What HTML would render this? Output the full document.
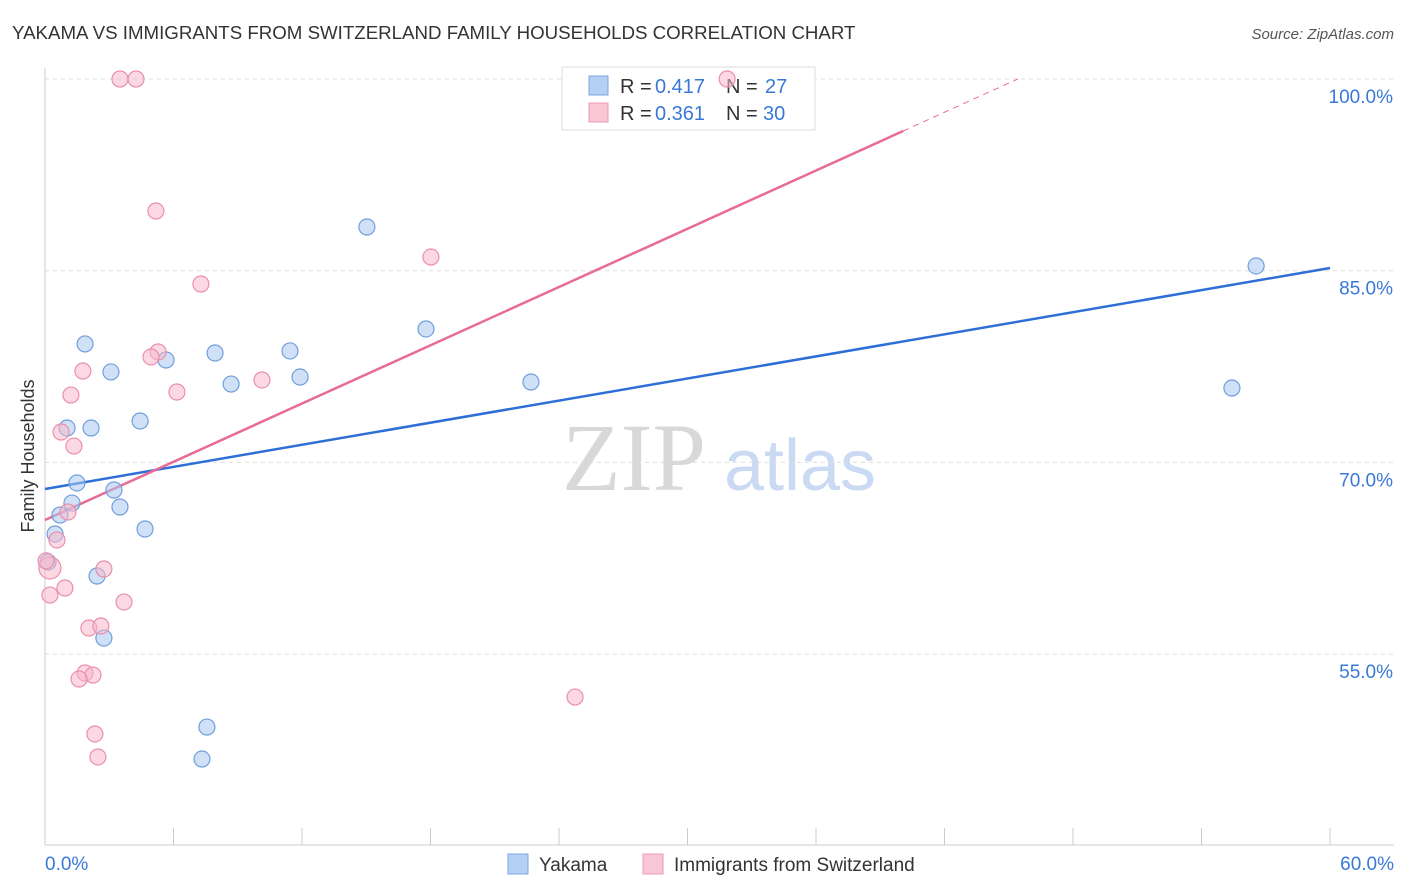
<!DOCTYPE html>
<html><head><meta charset="utf-8"><style>
body{margin:0;background:#fff;font-family:"Liberation Sans",sans-serif}
svg{display:block}
</style></head><body>
<svg id="chart" width="1406" height="892" xmlns="http://www.w3.org/2000/svg">
<text x="12" y="39" font-size="18.7" fill="#333">YAKAMA VS IMMIGRANTS FROM SWITZERLAND FAMILY HOUSEHOLDS CORRELATION CHART</text>
<text x="1394" y="39" font-size="15" fill="#555" font-style="italic" text-anchor="end">Source: ZipAtlas.com</text>
<g>
<text x="634" y="490" font-size="96" fill="#d8d8d8" font-family="Liberation Serif" text-anchor="middle">ZIP</text>
<text x="800" y="490" font-size="72" fill="#c9daf2" text-anchor="middle">atlas</text>
</g>
<g id="grid"></g>
<g id="axes"></g>
<g>
<rect x="562" y="67" width="253" height="63" fill="#fff" stroke="#ddd"/>
<rect x="589" y="76" width="19" height="19" fill="#b5d0f5" stroke="#7aa6e0"/>
<rect x="589" y="103" width="19" height="19" fill="#f9c6d5" stroke="#eb9ab5"/>
<text x="620" y="93" font-size="20" fill="#333">R =</text>
<text x="655" y="93" font-size="20" fill="#3a78d8">0.417</text>
<text x="726" y="93" font-size="20" fill="#333">N =</text>
<text x="765" y="93" font-size="20" fill="#3a78d8">27</text>
<text x="620" y="120" font-size="20" fill="#333">R =</text>
<text x="655" y="120" font-size="20" fill="#3a78d8">0.361</text>
<text x="726" y="120" font-size="20" fill="#333">N =</text>
<text x="763" y="120" font-size="20" fill="#3a78d8">30</text>
</g>
<g id="lines"></g>
<g id="points"></g>
<text transform="translate(34,456) rotate(-90)" font-size="18" fill="#333" text-anchor="middle">Family Households</text>
<g>
<rect x="508" y="854" width="20" height="20" fill="#b5d0f5" stroke="#7aa6e0"/>
<text x="539" y="871" font-size="19" fill="#333">Yakama</text>
<rect x="643" y="854" width="20" height="20" fill="#f9c6d5" stroke="#eb9ab5"/>
<text x="674" y="871" font-size="19" fill="#333">Immigrants from Switzerland</text>
</g>
</svg>
<script>
const yTicks=[100,85,70,55];
const yTickLabels=["100.0%","85.0%","70.0%","55.0%"];
const xTicks=[0,6,12,18,24,30,36,42,48,54,60];
const xTickLabels=["0.0%","60.0%"];
const blueX=[15.03,56.55,1.87,3.08,5.65,7.94,11.44,8.69,11.91,17.79,22.69,55.42,4.44,1.03,2.15,1.49,3.22,1.26,0.70,3.50,4.67,0.47,0.14,2.43,2.75,7.56,7.33];
const blueY=[88.42,85.37,79.27,77.08,78.01,78.56,78.72,76.13,76.68,80.44,76.29,75.82,73.24,72.69,72.69,68.39,67.84,66.82,65.88,66.51,64.79,64.40,62.20,61.11,56.26,49.29,46.79];
const pinkX=[3.50,4.25,31.85,5.18,18.02,7.28,5.28,4.95,1.77,10.13,6.16,1.21,0.75,1.35,1.07,0.56,0.23,0.93,0.23,2.75,3.69,2.05,2.61,1.87,2.24,1.59,24.75,2.33,2.47,0.05];
const pinkY=[100,100,100,89.67,86.07,83.96,78.64,78.25,77.15,76.45,75.51,75.27,72.38,71.28,66.12,63.93,61.74,60.17,59.62,61.66,59.08,57.04,57.20,53.52,53.36,53.05,51.64,48.75,46.95,62.3];
const blueTrend=[67.92,85.21];
const pinkTrend=[65.49,0.7597];
const NS="http://www.w3.org/2000/svg";
const X=v=>45+v/60*1285;
const Y=v=>79+(100-v)*12.78;
function mk(t,a,p){const e=document.createElementNS(NS,t);for(const k in a)e.setAttribute(k,a[k]);p.appendChild(e);return e;}
const grid=document.getElementById('grid'),axes=document.getElementById('axes'),lines=document.getElementById('lines'),pts=document.getElementById('points');
yTicks.forEach((v,i)=>{
 const l=mk('line',{x1:45,x2:1394,y1:Y(v),y2:Y(v),stroke:'#ddd','stroke-dasharray':'4,4'},grid);
 
 
 const t=mk('text',{x:1393,y:Y(v)+24,'font-size':19,fill:'#3a78d8','text-anchor':'end'},axes);
 t.textContent=yTickLabels[i];
 
 
});
const xa=mk('line',{x1:45,x2:1394,y1:845,y2:845,stroke:'#ccc'},axes);


const ya=mk('line',{x1:45,x2:45,y1:68,y2:845,stroke:'#ccc'},axes);


xTicks.forEach(v=>{
 const t=mk('line',{x1:X(v),x2:X(v),y1:828,y2:845,stroke:'#ccc'},axes);
 
 
});
[[0,'start',45],[60,'end',1394]].forEach((d,i)=>{
 const t=mk('text',{x:d[2],y:870,'font-size':19,fill:'#3a78d8','text-anchor':d[1]},axes);
 t.textContent=xTickLabels[i];
 
 
});
function dot(x,y,f,s,r){const c=mk('circle',{cx:X(x),cy:Y(y),r:r,fill:f,'fill-opacity':0.55,stroke:s,'stroke-width':1.2},pts);return c;}
blueX.forEach((x,i)=>{const c=dot(x,blueY[i],'#a9c8f0','#6f9fdc',8);
 
 });
pinkX.forEach((x,i)=>{const c=dot(x,pinkY[i],'#f7b8cb','#e98fae',i==16?11:8);
 
 });
const bl=mk('line',{x1:X(0),y1:Y(blueTrend[0]),x2:X(60),y2:Y(blueTrend[1]),stroke:'#2d6fd6','stroke-width':2.5},lines);


const pEnd=40.07,pMax=(100-pinkTrend[0])/pinkTrend[1];
const pl=mk('line',{x1:X(0),y1:Y(pinkTrend[0]),x2:X(pEnd),y2:Y(pinkTrend[0]+pinkTrend[1]*pEnd),stroke:'#e86a96','stroke-width':2.5},lines);


const pd=mk('line',{x1:X(pEnd),y1:Y(pinkTrend[0]+pinkTrend[1]*pEnd),x2:X(pMax),y2:Y(100),stroke:'#e86a96','stroke-width':1,'stroke-dasharray':'6,5'},lines);


</script>
</body></html>
